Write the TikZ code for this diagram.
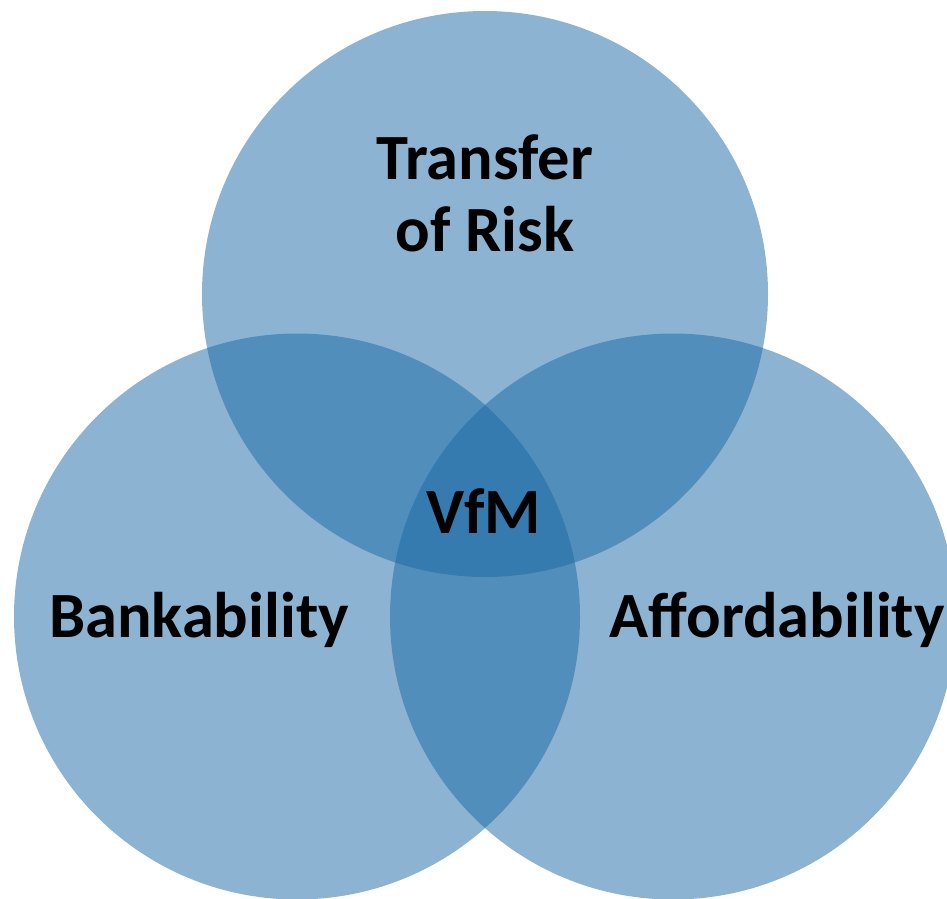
\documentclass[tikz,border=0pt]{standalone}
\usepackage{fontspec}
\setmainfont{Carlito}
\definecolor{vennblue}{RGB}{25,105,165}
\begin{document}
\begin{tikzpicture}[x=1pt,y=-1pt,
  venn/.style={circle, fill=vennblue, fill opacity=0.5, draw=none, minimum size=566pt, inner sep=0pt},
  label/.style={font=\fontsize{64.5}{72}\selectfont\bfseries, text=black, anchor=base, inner sep=0pt, align=center}]
\useasboundingbox (0,0) rectangle (947,898);
\node[venn] (top) at (485,294) {};
\node[venn] (left) at (297,616.5) {};
\node[venn] (right) at (673,616.5) {};
\node[label] (risk) at (485,251) {Transfer\\of Risk};
\node[label] (bank) at (199,637) {Bankability};
\node[label] (afford) at (777,637) {Affordability};
\node[label] (vfm) at (484,533) {VfM};
\end{tikzpicture}
\end{document}
